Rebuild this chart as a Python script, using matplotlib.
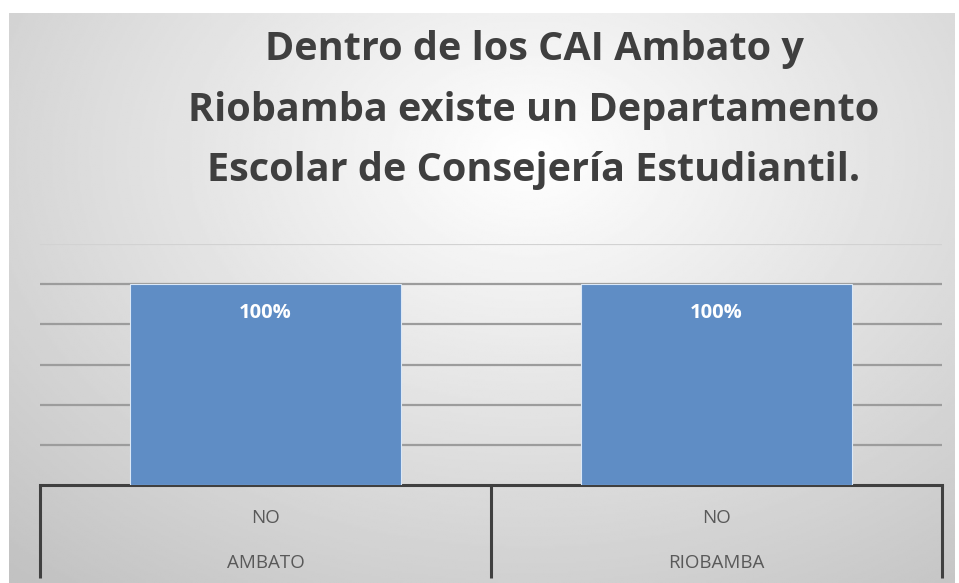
import numpy as np
import matplotlib.pyplot as plt

categories = ["NO", "NO"]
groups = ["AMBATO", "RIOBAMBA"]
values = [1.0, 1.0]
labels = ["100%", "100%"]
title = "Dentro de los CAI Ambato y\nRiobamba existe un Departamento\nEscolar de Consejería Estudiantil."

W, H = 959, 583
fig = plt.figure(figsize=(W / 100, H / 100), dpi=100)
fig.patch.set_facecolor("white")

# soft radial background like the office chart style
bg = fig.add_axes([9 / W, 0, (955 - 9) / W, (H - 13) / H])
yy, xx = np.mgrid[0:1:300j, 0:1:500j]
r = np.sqrt(((xx - 0.55) / 0.75) ** 2 + ((yy - 0.25) / 0.9) ** 2)
shade = 1.0 - 0.22 * np.clip(r, 0, 1.1)
bg.imshow(shade, cmap="gray", vmin=0, vmax=1, aspect="auto",
          extent=[0, 1, 0, 1], origin="upper")
bg.axis("off")

fig.text(534 / W, 1 - 110 / H, title, ha="center", va="center",
         fontsize=28.5, fontweight="bold", color="#3f3f3f",
         family="Open Sans", linespacing=1.72)

ax = fig.add_axes([40 / W, (H - 485) / H, (942 - 40) / W, (485 - 244) / H])
ax.patch.set_alpha(0)
x = np.arange(len(values))
bars = ax.bar(x, values, width=0.6, color="#5f8dc5", edgecolor="#dbe8f7", linewidth=0.8, zorder=3)
ax.set_xlim(-0.5, len(values) - 0.5)
ax.set_ylim(0, 1.2)
ax.set_yticks(np.arange(0.2, 1.21, 0.2))
ax.yaxis.grid(True, color="#9c9c9c", linewidth=1.6, zorder=0)
ax.get_ygridlines()[-1].set_color("#d2d2d2")
ax.tick_params(left=False, labelleft=False, bottom=False, labelbottom=False)
for s in ["left", "right", "top"]:
    ax.spines[s].set_visible(False)
ax.spines["bottom"].set_color("#404040")
ax.spines["bottom"].set_linewidth(2.2)

px = 1.2 / (485 - 244)  # data units per pixel
for b, lab in zip(bars, labels):
    ax.text(b.get_x() + b.get_width() / 2, b.get_height() - 29 * px, lab,
            ha="center", va="center", color="white", fontsize=14.5,
            fontweight="bold", family="Open Sans", zorder=4)

# multi-level category axis
depth = (578 - 485) * px
for xs in [-0.5, 0.5, 1.5]:
    ax.plot([xs, xs], [0, -depth], color="#404040", linewidth=2.2,
            clip_on=False, solid_capstyle="butt")
for xi, c, g in zip(x, categories, groups):
    ax.text(xi, -(518 - 485) * px, c, ha="center", va="center",
            fontsize=13.5, color="#595959", family="Open Sans")
    ax.text(xi, -(563 - 485) * px, g, ha="center", va="center",
            fontsize=13.5, color="#595959", family="Open Sans")

fig.savefig("out.png", dpi=100)
